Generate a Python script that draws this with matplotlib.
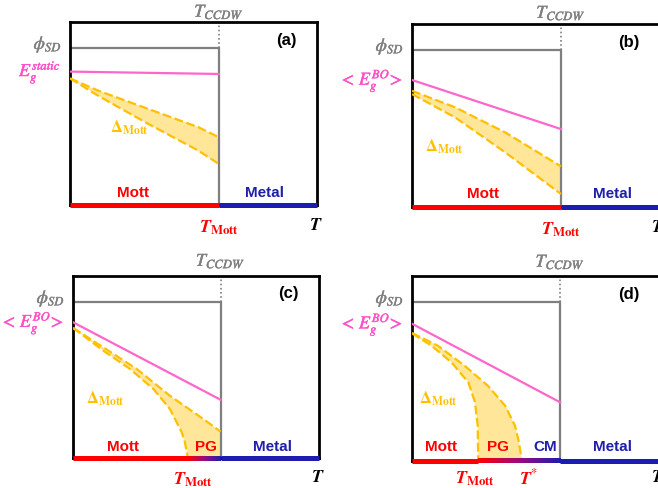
import matplotlib
matplotlib.use("Agg")
import matplotlib.pyplot as plt
import numpy as np
from matplotlib.collections import LineCollection
from matplotlib.colors import LinearSegmentedColormap
import matplotlib.transforms as mtransforms
import matplotlib.patheffects as pe

plt.rcParams['mathtext.fontset'] = 'stix'
plt.rcParams['font.family'] = ['Liberation Sans', 'DejaVu Sans']

# ---------------- data (normalised T and energy, per panel) ----------------
panel_names = ['(a)', '(b)', '(c)', '(d)']
T_ccdw = [0.603, 0.603, 0.600, 0.600]
phi_sd = [0.858, 0.858, 0.857, 0.859]
pink_T = [[0.0, 0.603], [0.0, 0.603], [0.0, 0.600], [0.0, 0.600]]
pink_E = [[0.729, 0.716], [0.694, 0.426], [0.746, 0.320], [0.742, 0.317]]
e_labels = [r'$E_g^{static}$', r'$<\,E_g^{BO}\!>$', r'$<\,E_g^{BO}\!>$', r'$<\,E_g^{BO}\!>$']

upper_T = [[0.0, 0.114, 0.317, 0.520, 0.603],
           [0.0, 0.174, 0.377, 0.603],
           [0.0, 0.123, 0.259, 0.394, 0.530, 0.600],
           [0.0, 0.105, 0.213, 0.307, 0.377, 0.417, 0.433, 0.445]]
upper_E = [[0.692, 0.625, 0.525, 0.425, 0.370],
           [0.635, 0.545, 0.408, 0.222],
           [0.715, 0.608, 0.489, 0.342, 0.214, 0.145],
           [0.692, 0.623, 0.515, 0.407, 0.299, 0.191, 0.101, 0.0]]
lower_T = [[0.0, 0.114, 0.317, 0.520, 0.603],
           [0.0, 0.174, 0.377, 0.603],
           [0.0, 0.123, 0.232, 0.327, 0.394, 0.442, 0.455, 0.467],
           [0.0, 0.079, 0.160, 0.228, 0.255, 0.266, 0.268]]
lower_E = [[0.692, 0.597, 0.443, 0.297, 0.224],
           [0.617, 0.490, 0.299, 0.071],
           [0.715, 0.590, 0.489, 0.379, 0.269, 0.141, 0.086, 0.0],
           [0.690, 0.623, 0.533, 0.425, 0.317, 0.191, 0.0]]

# where the insulating (red) part of the T axis ends and crossover starts
red_end = [0.603, 0.603, 0.467, 0.268]

region_text = [['Mott', 'Metal'], ['Mott', 'Metal'], ['Mott', 'PG', 'Metal'],
               ['Mott', 'PG', 'CM', 'Metal']]
region_x = [[0.255, 0.789], [0.287, 0.810], [0.203, 0.541, 0.813],
            [0.117, 0.348, 0.538, 0.810]]
region_y = [0.071, 0.077, 0.066, 0.081]

tmott_x = [0.603, 0.603, 0.488, 0.255]
tstar_x = [None, None, None, 0.470]
delta_xy = [(0.239, 0.426), (0.130, 0.333), (0.130, 0.330), (0.105, 0.340)]
ccdw_label_y = [1.055, 1.060, 1.082, 1.076]

# panel rectangles in pixels (left, top, right, bottom)
rects_px = [(70, 23, 317, 206), (412, 25, 659, 208),
            (73, 277, 319, 459), (412, 277, 659, 462)]
tmott_dy = [22, 22, 21, 17]
taxis_dy = [20, 20, 19, 16]

# ---------------- styles ----------------
GRAY = '#7F7F7F'
PINK = '#FF66CC'
PINK_TXT = '#FF4FC8'
YEL = '#FFC000'
YEL_FILL = '#FFE699'
RED = '#FF0000'
BLUE = '#1C1CB0'
BLUE_TXT = '#1F1FA8'

W, H = 658, 489
fig = plt.figure(figsize=(W / 100, H / 100), dpi=100)

region_colors = {'Mott': RED, 'PG': RED, 'CM': BLUE_TXT, 'Metal': BLUE_TXT}
cmap = LinearSegmentedColormap.from_list('rb', [RED, '#9A0A80', BLUE])


def thick(color, w=0.3):
    return [pe.withStroke(linewidth=w, foreground=color)]


for i in range(4):
    l, t, r, b = rects_px[i]
    ax = fig.add_axes([l / W, 1 - b / H, (r - l) / W, (b - t) / H])
    ax.set_xlim(0, 1)
    ax.set_ylim(0, 1)
    ax.set_xticks([])
    ax.set_yticks([])
    for s in ax.spines.values():
        s.set_linewidth(2.0)
        s.set_color('black')
    ax.patch.set_alpha(0)

    tc = T_ccdw[i]
    # yellow Mott-gap band
    ut, ue = np.array(upper_T[i]), np.array(upper_E[i])
    lt, le = np.array(lower_T[i]), np.array(lower_E[i])
    if i == 2:
        px = np.concatenate([ut, [tc], lt[::-1]])
        py = np.concatenate([ue, [0.0], le[::-1]])
    else:
        px = np.concatenate([ut, lt[::-1]])
        py = np.concatenate([ue, le[::-1]])
    ax.fill(px, py, color=YEL_FILL, lw=0, zorder=1)
    ax.plot(ut, ue, color=YEL, lw=1.6, dashes=(4, 1.6), zorder=3)
    ax.plot(lt, le, color=YEL, lw=1.6, dashes=(4, 1.6), zorder=3)

    # pink gap line
    ax.plot(pink_T[i], pink_E[i], color=PINK, lw=1.6, zorder=3)

    # gray phi_SD lines
    ax.plot([0, tc, tc], [phi_sd[i], phi_sd[i], 0], color=GRAY, lw=1.6,
            zorder=2, solid_joinstyle='miter')
    ax.plot([tc, tc], [phi_sd[i], 1], color=GRAY, lw=1.2, ls=(0, (1, 1.5)),
            zorder=2)

    # coloured T axis bar
    re_ = red_end[i]
    lc = LineCollection([[(0, 0), (re_, 0)], [(tc, 0), (1, 0)]],
                        colors=[RED, BLUE], linewidths=3.6, capstyle='butt',
                        zorder=5, clip_on=False)
    ax.add_collection(lc)
    if re_ < tc:
        half = 1.8 / 72 * 100 / (b - t)  # half bar thickness in axes units
        grad = np.linspace(0, 1, 128).reshape(1, -1)
        ax.imshow(grad, cmap=cmap, extent=(re_, tc, -half, half),
                  aspect='auto', zorder=5, clip_on=False, interpolation='bilinear')
        ax.set_xlim(0, 1)
        ax.set_ylim(0, 1)

    # region names
    for name, xr in zip(region_text[i], region_x[i]):
        ax.text(xr, region_y[i], name, color=region_colors[name], fontsize=11,
                fontweight='bold', ha='center', va='center', zorder=6)

    ax.text(delta_xy[i][0], delta_xy[i][1], r'$\mathbf{\Delta}_{\mathbf{Mott}}$',
            color=YEL, fontsize=12, ha='center', va='center')

    ax.text(0.876, 0.907, panel_names[i], fontsize=12, fontweight='bold',
            ha='center', va='center')

    trans_x = mtransforms.blended_transform_factory(ax.transData, ax.transAxes)
    ax.text(tc, ccdw_label_y[i], r'$T_{CCDW}$', color=GRAY, fontsize=13,
            ha='center', va='center', transform=trans_x, clip_on=False,
            path_effects=thick(GRAY))

    off = mtransforms.offset_copy(ax.transData, fig=fig, x=-8, y=3, units='dots')
    ax.text(0, phi_sd[i], r'$\phi_{SD}$', color=GRAY, fontsize=13,
            ha='right', va='center', transform=off, clip_on=False,
            path_effects=thick(GRAY))
    off2 = mtransforms.offset_copy(ax.transData, fig=fig, x=-9, y=-1, units='dots')
    ax.text(0, pink_E[i][0], e_labels[i], color=PINK_TXT, fontsize=13,
            ha='right', va='center', transform=off2, clip_on=False,
            path_effects=thick(PINK_TXT))

    bot = mtransforms.offset_copy(trans_x, fig=fig, x=0, y=-tmott_dy[i], units='dots')
    ax.text(tmott_x[i], 0, r'$\boldsymbol{T}_{\mathbf{Mott}}$', color=RED,
            fontsize=13, ha='center', va='center', transform=bot,
            clip_on=False)
    bot2 = mtransforms.offset_copy(trans_x, fig=fig, x=0, y=-taxis_dy[i], units='dots')
    if tstar_x[i] is not None:
        ax.text(tstar_x[i], 0, r'$\boldsymbol{T}^{*}$', color=RED,
                fontsize=13, ha='center', va='center', transform=bot2,
                clip_on=False)
    ax.text(0.995, 0, r'$\boldsymbol{T}$', color='black', fontsize=13,
            ha='center', va='center', transform=bot2, clip_on=False)

fig.savefig('out.png', dpi=100)
